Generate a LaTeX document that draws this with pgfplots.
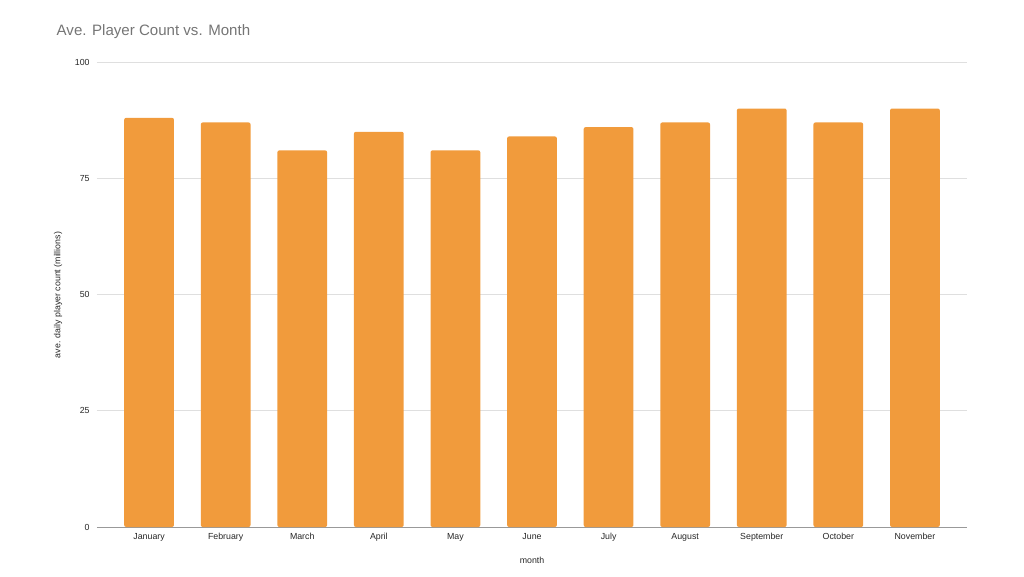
\documentclass[border=0pt]{standalone}
\usepackage{pgfplots}
\pgfplotsset{compat=1.18}
\usepackage{fontspec}
\setmainfont{Liberation Sans}
\definecolor{barc}{HTML}{F19B3C}
\definecolor{titc}{HTML}{757575}
\begin{document}
\begin{tikzpicture}[x=0.75pt,y=0.75pt]
\path[use as bounding box] (-97,-49) rectangle (927,527);
\begin{axis}[
  at={(0,0)}, anchor=south west,
  scale only axis, width=652.5pt, height=348.75pt,
  xmin=-0.68, xmax=10.68, ymin=0, ymax=100,
  ytick={0,25,50,75,100},
  xtick=data,
  xticklabels={January,February,March,April,May,June,July,August,September,October,November},
  ymajorgrids, grid style={color=gray!25, line width=0.6pt},
  axis x line*=bottom, axis y line*=left,
  y axis line style={draw=none},
  x axis line style={color=gray!80, line width=0.7pt, -},
  xtick style={draw=none}, ytick style={draw=none},
  tick label style={font=\fontsize{6.6}{7}\selectfont, text=black!85},
  yticklabel style={xshift=-2pt},
  xticklabel style={yshift=3pt},
  /pgf/number format/assume math mode=true,
  ybar, bar width=0.65,
  clip=false,
]
\addplot[fill=barc, draw=none, rounded corners=1.5pt] coordinates {
(0,88) (1,87) (2,81) (3,85) (4,81) (5,84) (6,86) (7,87) (8,90) (9,87) (10,90)};
\end{axis}
\node[anchor=west, text=titc, font=\fontsize{11.3}{13}\selectfont] at (-45,495) {Ave. Player Count vs. Month};
\node[rotate=90, font=\fontsize{6.6}{7}\selectfont, text=black!85] at (-39,232) {ave. daily player count (millions)};
\node[font=\fontsize{6.6}{7}\selectfont, text=black!85] at (435,-33) {month};
\end{tikzpicture}
\end{document}
